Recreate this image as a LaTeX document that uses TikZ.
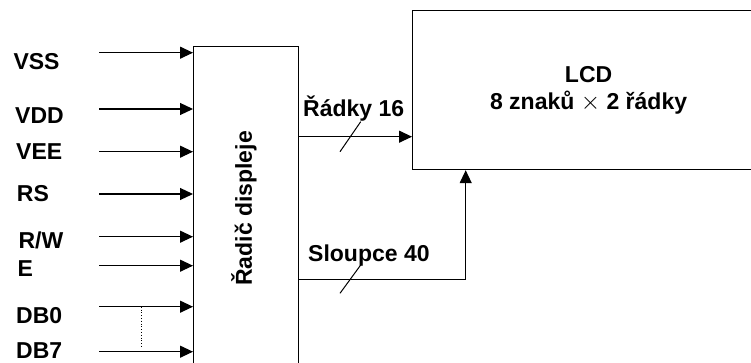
\documentclass[tikz,border=0pt]{standalone}
\usepackage{fontspec}
\setmainfont{Liberation Sans}
\usetikzlibrary{arrows.meta, positioning}

\tikzset{
  sig/.style={font=\bfseries\fontsize{23}{27}\selectfont, inner sep=0pt, anchor=base west},
  wire/.style={line width=1.2pt, -{Triangle[length=13pt, width=12pt]}},
  blok/.style={draw, line width=1.2pt, inner sep=0pt},
}

\begin{document}
\begin{tikzpicture}[x=1pt, y=-1pt]
  \useasboundingbox (0,0) rectangle (751,363);

  % radic displeje
  \node[blok, minimum width=105pt, minimum height=322pt, anchor=north west] (ctrl) at (193,46) {};
  \node[sig, anchor=center, rotate=90] (ctrltxt) at (244,208.5) {Řadič displeje};

  % LCD
  \node[blok, minimum width=352pt, minimum height=159pt, anchor=north west,
        font=\bfseries\fontsize{23}{27}\selectfont, align=center] (lcd) at (412,10)
        {LCD\\8 znaků $\times$ 2 řádky};

  % vstupy
  \foreach \i/\txt/\lx/\ly/\ay in {vss/VSS/13.3/70/52.7, vdd/VDD/15/123.3/109,
      vee/VEE/16/160/151.7, rs/RS/16.7/201.7/194, rw/R\slash W/18.3/248.3/236.7,
      e/E/17.3/276.7/265.7, db0/DB0/16/323/306.7, db7/DB7/16/358/351.7} {
    \node[sig] (lbl-\i) at (\lx,\ly) {\txt};
    \coordinate (in-\i) at (99,\ay);
    \draw[wire] (in-\i) -- (in-\i -| ctrl.west);
  }
  \coordinate (tapA) at (141.7,306.7);
  \coordinate (tapB) at (141.7,348.5);
  \draw[dotted, line width=0.8pt] (tapA) -- (tapB);

  % radky
  \coordinate (rowout) at (298,136.7);
  \draw[wire] (rowout) -- (rowout -| lcd.west);
  \draw[line width=1pt] (340,151.7) -- (360.7,121.7);
  \node[sig] (rowlbl) at (303,116.5) {Řádky 16};

  % sloupce
  \coordinate (colout) at (298,279.3);
  \coordinate (colbend) at (465.7,279.3);
  \draw[wire] (colout) -- (colbend) -- (colbend |- lcd.south);
  \draw[line width=1pt] (340,293.3) -- (360.7,265);
  \node[sig] (collbl) at (308,261.7) {Sloupce 40};
\end{tikzpicture}
\end{document}
